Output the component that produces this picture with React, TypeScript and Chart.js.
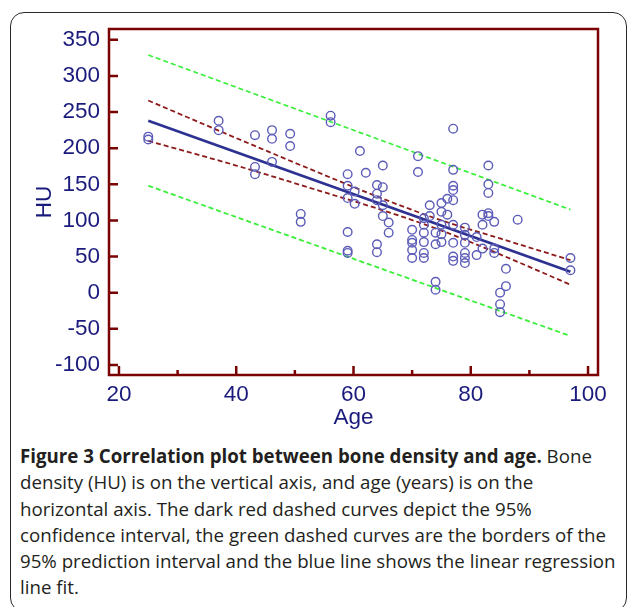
import React, { useEffect, useRef } from 'react';
import { Chart, registerables } from 'chart.js';
Chart.register(...registerables);

// Observations (age in years, bone density in HU)
const pointAges = [
  25, 25, 37, 37, 43.2, 43.2, 43.2, 46.1, 46.1, 46.1, 49.2, 49.2, 51, 51, 56.1, 56.1,
  59, 59, 59, 59, 59, 59, 60.2, 60.2, 61.1, 62.1,
  64, 64, 64, 64, 64, 65, 65, 65, 65, 66, 66,
  70, 70, 70, 70, 70, 71, 71, 72, 72, 72, 72, 72, 72, 73, 73,
  74, 74, 74, 74, 75, 75, 75, 75, 75, 76, 76,
  77, 77, 77, 77, 77, 77, 77, 77, 77,
  79, 79, 79, 79, 79, 79, 81, 81, 82, 82, 82,
  83, 83, 83, 83, 83, 84, 84, 84, 85, 85, 85, 86, 86, 88, 97, 97,
];
const pointHU = [
  216, 212, 238, 225, 218, 174, 164, 225, 213, 181, 220, 203, 109, 98, 245, 236,
  164, 148, 131, 84, 58, 55, 140, 123, 196, 166,
  149, 137, 128, 67, 56, 176, 146, 121, 106, 97, 83,
  87, 73, 69, 59, 48, 189, 167, 103, 94, 83, 70, 55, 48, 121, 106,
  83, 67, 15, 4, 124, 112, 94, 81, 70, 130, 108,
  227, 170, 148, 142, 128, 94, 69, 50, 44,
  90, 80, 69, 55, 48, 41, 77, 52, 108, 94, 61,
  176, 150, 138, 110, 106, 98, 61, 55, 0, -16, -27, 33, 9, 101, 48, 31,
];

// Regression line
const fitAges = [25, 97];
const fitHU = [238, 29];

// 95% confidence interval (dark red dashed)
const ciAges = [25, 40, 55, 65, 75, 85, 97];
const ciUpper = [266, 214, 163, 130, 100, 75, 45];
const ciLower = [210, 176, 139, 114, 86, 53, 11];

// 95% prediction interval (green dashed)
const piAges = [25, 61, 97];
const piUpper = [329, 222, 115];
const piLower = [148, 44, -60];

// Axis ticks
const yTickValues = [-100, -50, 0, 50, 100, 150, 200, 250, 300, 350];
const xMajorTicks = [20, 40, 60, 80, 100];
const xMinorTicks = [30, 50, 70, 90];

const AXIS_COLOR = '#7a0202';
const TEXT_BLUE = '#1b1b7d';
const AXIS_FONT = { family: '"Liberation Sans", Arial, sans-serif', size: 22.5 };

const zip = (xs: number[], ys: number[]) => xs.map((x, i) => ({ x, y: ys[i] }));

const framePlugin = {
  id: 'frameTicks',
  afterDraw(chart: any) {
    const { ctx, chartArea } = chart;
    const { left, top, right, bottom } = chartArea;
    const xs = chart.scales.x;
    const ys = chart.scales.y;
    ctx.save();
    ctx.strokeStyle = AXIS_COLOR;
    ctx.lineWidth = 2.5;
    ctx.strokeRect(left, top, right - left, bottom - top);
    ctx.beginPath();
    yTickValues.forEach((v) => {
      const py = ys.getPixelForValue(v);
      ctx.moveTo(left, py);
      ctx.lineTo(left + 9, py);
    });
    xMajorTicks.forEach((v) => {
      const px = xs.getPixelForValue(v);
      ctx.moveTo(px, bottom);
      ctx.lineTo(px, bottom - 9);
    });
    xMinorTicks.forEach((v) => {
      const px = xs.getPixelForValue(v);
      ctx.moveTo(px, bottom);
      ctx.lineTo(px, bottom - 5);
    });
    ctx.stroke();
    ctx.restore();
  },
};

export default function App() {
  const ref = useRef<HTMLCanvasElement>(null);
  useEffect(() => {
    const dashed = (data: any, color: string) => ({
      type: 'line' as const,
      data,
      borderColor: color,
      borderWidth: 1.8,
      borderDash: [5, 3],
      pointRadius: 0,
      fill: false,
      tension: 0.4,
      cubicInterpolationMode: 'monotone' as const,
    });
    const chart = new Chart(ref.current!, {
      type: 'scatter',
      data: {
        datasets: [
          {
            type: 'scatter',
            label: 'Observations',
            data: zip(pointAges, pointHU),
            pointStyle: 'circle',
            pointRadius: 4.3,
            pointBorderWidth: 1.4,
            pointBorderColor: '#5c5cb8',
            pointBackgroundColor: 'rgba(0,0,0,0)',
            showLine: false,
          } as any,
          {
            type: 'line',
            label: 'Fit',
            data: zip(fitAges, fitHU),
            borderColor: '#2d3192',
            borderWidth: 2.8,
            pointRadius: 0,
            fill: false,
          } as any,
          dashed(zip(ciAges, ciUpper), '#8e1b1b'),
          dashed(zip(ciAges, ciLower), '#8e1b1b'),
          dashed(zip(piAges, piUpper), '#38f038'),
          dashed(zip(piAges, piLower), '#38f038'),
        ],
      },
      options: {
        responsive: false,
        animation: false,
        layout: { padding: { top: 29, right: 31, left: 0, bottom: 0 } },
        plugins: { legend: { display: false }, tooltip: { enabled: false } },
        scales: {
          x: {
            type: 'linear',
            min: 18.3,
            max: 101.7,
            grid: { display: false, drawTicks: false },
            border: { display: false },
            ticks: {
              stepSize: 20,
              includeBounds: false,
              padding: 6,
              color: TEXT_BLUE,
              font: AXIS_FONT,
              maxRotation: 0,
            },
            title: {
              display: true,
              text: 'Age',
              color: TEXT_BLUE,
              font: AXIS_FONT,
              padding: { top: 0, bottom: 9 },
            },
            afterFit: (s: any) => {
              s.height = 65;
            },
          },
          y: {
            type: 'linear',
            min: -114,
            max: 365,
            grid: { display: false, drawTicks: false },
            border: { display: false },
            ticks: {
              stepSize: 50,
              includeBounds: false,
              padding: 9,
              color: TEXT_BLUE,
              font: AXIS_FONT,
            },
            title: {
              display: true,
              text: 'HU',
              color: TEXT_BLUE,
              font: AXIS_FONT,
              padding: { top: 31, bottom: 0 },
            },
            afterFit: (s: any) => {
              s.width = 109;
            },
          },
        },
      },
      plugins: [framePlugin],
    } as any);
    return () => chart.destroy();
  }, []);

  const captionLines: React.ReactNode[] = [
    <>
      <b>Figure 3 Correlation plot between bone density and age.</b> Bone
    </>,
    'density (HU) is on the vertical axis, and age (years) is on the',
    'horizontal axis. The dark red dashed curves depict the 95%',
    'confidence interval, the green dashed curves are the borders of the',
    '95% prediction interval and the blue line shows the linear regression',
    'line fit.',
  ];

  return (
    <div
      style={{
        position: 'absolute',
        left: 0,
        top: 0,
        width: 629,
        height: 607,
        background: '#ffffff',
        overflow: 'hidden',
      }}
    >
      <div
        style={{
          position: 'absolute',
          left: 10,
          top: 12,
          width: 617,
          height: 600,
          border: '1.5px solid #2b2b2b',
          borderRadius: 14,
          boxSizing: 'border-box',
        }}
      />
      <div style={{ position: 'absolute', left: 0, top: 0, width: 629, height: 440 }}>
        <canvas ref={ref} width={629} height={440} style={{ width: 629, height: 440, display: 'block' }} />
      </div>
      <div
        style={{
          position: 'absolute',
          left: 20,
          top: 443,
          fontFamily: '"Open Sans", "Noto Sans", sans-serif',
          fontSize: 18.7,
          lineHeight: '26.3px',
          color: '#231f20',
          whiteSpace: 'nowrap',
        }}
      >
        {captionLines.map((l, i) => (
          <div key={i}>{l}</div>
        ))}
      </div>
    </div>
  );
}
